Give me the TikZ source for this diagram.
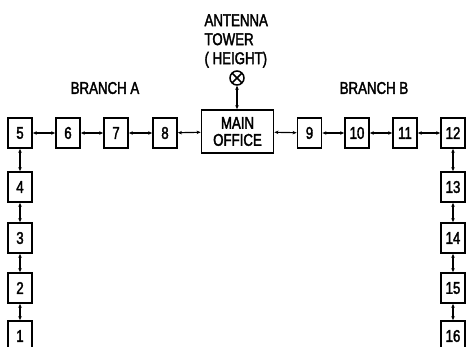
\documentclass[tikz,border=0pt]{standalone}
\usepackage{fontspec}
\setmainfont{Liberation Sans}[FakeStretch=0.78, FakeBold=2]
\usetikzlibrary{arrows.meta}

\begin{document}
\begin{tikzpicture}[x=1pt, y=-1pt, >={Stealth[length=4pt, width=3.5pt]}, font=\fontsize{17}{19}\selectfont]
				\useasboundingbox (0, 0) rectangle (466, 346);
				\tikzset{
					unit/.style={draw, rectangle, line width=1.8pt, minimum width=24pt, minimum height=30pt, inner sep=0pt, font=\fontsize{17}{17}\selectfont},
					link/.style={<->, line width=1.2pt}
				}
				% branch A
				\node[unit] (n5) at (20, 133) {5};
				\node[unit] (n6) at (68, 133) {6};
				\node[unit] (n7) at (116, 133) {7};
				\node[unit] (n8) at (165, 133) {8};
				\node[unit] (n4) at (20, 187) {4};
				\node[unit] (n3) at (20, 238) {3};
				\node[unit] (n2) at (20, 288) {2};
				\node[unit] (n1) at (20, 336) {1};
				\node (brancha) at (105, 88) {BRANCH A};
				
				% main office and tower
				\node[draw, rectangle, line width=1.8pt, minimum width=72pt, minimum height=43pt, align=center, font=\fontsize{17}{17}\selectfont] (office) at (237.5, 131.5) {MAIN\\OFFICE};
				\node[draw, circle, line width=1.5pt, minimum size=14pt, inner sep=0pt,
					path picture={\draw[line width=1.5pt] (path picture bounding box.north west) -- (path picture bounding box.south east) (path picture bounding box.north east) -- (path picture bounding box.south west);}] (tower) at (237, 78) {};
				\node[anchor=west, align=left] (towerlabel) at (201, 41) {ANTENNA\\TOWER\\( HEIGHT)};
				
				% branch B
				\node[unit] (n9) at (309.5, 133) {9};
				\node[unit] (n10) at (357, 133) {10};
				\node[unit] (n11) at (405, 133) {11};
				\node[unit] (n12) at (453, 133) {12};
				\node[unit] (n13) at (453, 187) {13};
				\node[unit] (n14) at (453, 238) {14};
				\node[unit] (n15) at (453, 288) {15};
				\node[unit] (n16) at (453, 336) {16};
				\node (branchb) at (374, 88) {BRANCH B};
				
				\draw[link] (n5) -- (n6);
				\draw[link] (n6) -- (n7);
				\draw[link] (n7) -- (n8);
				\draw[link] (n8) -- (office);
				\draw[link] (n5) -- (n4);
				\draw[link] (n4) -- (n3);
				\draw[link] (n3) -- (n2);
				\draw[link] (n2) -- (n1);
				\draw[link] (tower) -- (office.north -| tower);
				\draw[link] (office) -- (n9);
				\draw[link] (n9) -- (n10);
				\draw[link] (n10) -- (n11);
				\draw[link] (n11) -- (n12);
				\draw[link] (n12) -- (n13);
				\draw[link] (n13) -- (n14);
				\draw[link] (n14) -- (n15);
				\draw[link] (n15) -- (n16);
			\end{tikzpicture}
\end{document}
